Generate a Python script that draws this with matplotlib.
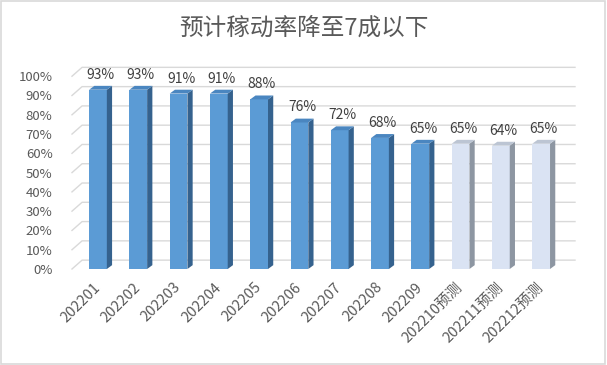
import matplotlib

matplotlib.use("Agg")
import matplotlib.pyplot as plt
import matplotlib.transforms as mtransforms
from matplotlib.patches import Polygon, Rectangle

plt.rcParams["font.family"] = ["Noto Sans CJK SC", "DejaVu Sans"]

# data
months = ["202201", "202202", "202203", "202204", "202205", "202206",
          "202207", "202208", "202209", "202210预测", "202211预测", "202212预测"]
rates = [0.93, 0.93, 0.91, 0.91, 0.88, 0.76, 0.72, 0.68, 0.65, 0.65, 0.64, 0.65]
is_forecast = [False] * 9 + [True] * 3
yticks = [i / 10 for i in range(11)]

title = "预计稼动率降至7成以下"

# styling
front_actual, side_actual, top_actual = "#5B9BD5", "#35628E", "#4A86C0"
front_fc, side_fc, top_fc = "#DAE3F3", "#8D96A2", "#BCC5D3"
grid_color = "#D9D9D9"
text_color = "#595959"

bar_w = 0.44
dep_x, dep_y = 0.13, 0.02      # bar depth (3d look)
wall_x, wall_y = 0.25, 0.046   # back wall offset

fig = plt.figure(figsize=(6.07, 3.65), dpi=100)
ax = fig.add_axes([0.1186, 0.263, 0.8287, 0.581])
xl, xr = -0.645, 11.84
ax.set_xlim(xl, xr)
ax.set_ylim(0, 1.1)

# back wall gridlines with the little diagonal on the left
for v in yticks:
    ax.plot([xl, xl + wall_x, xr], [v, v + wall_y, v + wall_y],
            color=grid_color, lw=1.0, zorder=1, clip_on=False)

xs = list(range(len(months)))
for x, v, fc in zip(xs, rates, is_forecast):
    front, side, top = (front_fc, side_fc, top_fc) if fc else (front_actual, side_actual, top_actual)
    ax.bar(x, v, width=bar_w, color=front, zorder=3)
    r = x + bar_w / 2
    l = x - bar_w / 2
    ax.add_patch(Polygon([(r, 0), (r + dep_x, dep_y), (r + dep_x, v + dep_y), (r, v)],
                         closed=True, facecolor=side, edgecolor="none", zorder=3))
    ax.add_patch(Polygon([(l, v), (r, v), (r + dep_x, v + dep_y), (l + dep_x, v + dep_y)],
                         closed=True, facecolor=top, edgecolor="none", zorder=3))
    ax.annotate(f"{v:.0%}", (x + dep_x / 2, v + dep_y), xytext=(0, 3),
                textcoords="offset points", ha="center", va="bottom",
                fontsize=10, color="#404040", zorder=4)

ax.set_yticks(yticks)
ax.set_yticklabels([f"{int(round(t * 100))}%" for t in yticks])
ax.set_xticks(xs)
ax.set_xticklabels(months, rotation=45, ha="right", rotation_mode="anchor")
ax.tick_params(axis="y", length=0, pad=14, labelsize=9.5, labelcolor=text_color)
ax.tick_params(axis="x", length=0, pad=8, labelsize=10.5, labelcolor=text_color)
shift = mtransforms.ScaledTranslation(-5 / 100, 0, fig.dpi_scale_trans)
for lab in ax.get_xticklabels():
    lab.set_transform(lab.get_transform() + shift)
for s in ax.spines.values():
    s.set_visible(False)

fig.text(0.5, 0.922, title, ha="center", va="center", fontsize=17, color=text_color)

# outer chart border
fig.add_artist(Rectangle((0.002, 0.003), 0.995, 0.993, transform=fig.transFigure,
                         fill=False, edgecolor="#D9D9D9", lw=1.2))

fig.savefig("out.png", dpi=100, facecolor="white")
